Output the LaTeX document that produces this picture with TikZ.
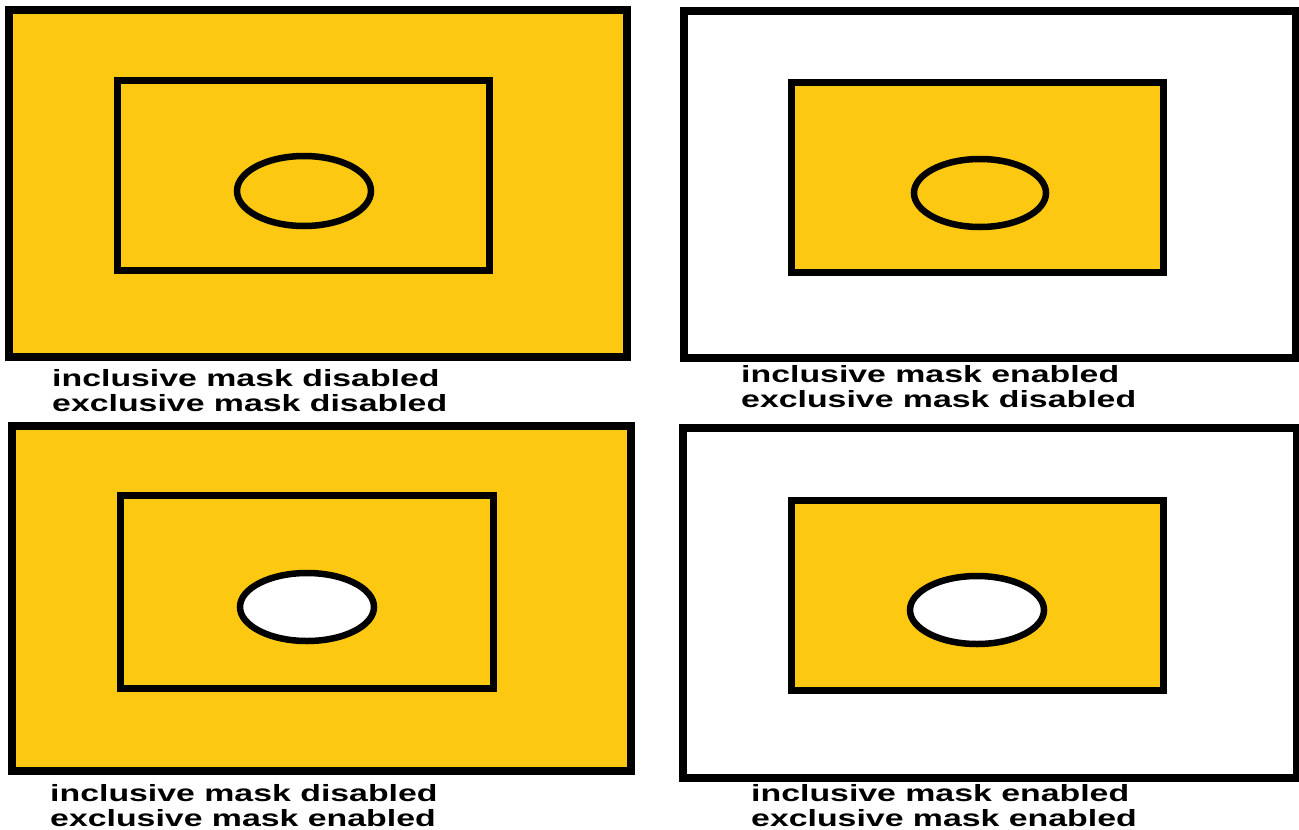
\documentclass[tikz,border=0pt]{standalone}
\usepackage{fontspec}
\newfontfamily\labfont{Liberation Sans}[FakeStretch=1.44]
\definecolor{maskyellow}{RGB}{252,200,17}
\tikzset{
  outerbox/.style={draw=black,line width=7.5pt},
  innerbox/.style={draw=black,line width=7pt,fill=maskyellow},
  hole/.style={draw=black,line width=6.5pt},
  lab/.style={anchor=north west,inner sep=0pt,align=left,font=\labfont\bfseries\fontsize{23.5}{25}\selectfont}
}
\begin{document}
\begin{tikzpicture}[x=1pt,y=-1pt]
\useasboundingbox (0,0) rectangle (1299,830);
\fill[white] (0,0) rectangle (1299,830);
% panel 1
\draw[outerbox,fill=maskyellow] (9,10) rectangle (627,357);
\draw[innerbox] (117,80) rectangle (489,270);
\draw[hole,fill=maskyellow] (304,191) ellipse [x radius=67,y radius=35];
\node[lab] (l1) at (52,369) {inclusive mask disabled\\exclusive mask disabled};
% panel 2
\draw[outerbox,fill=white] (684,11) rectangle (1296,358);
\draw[innerbox] (791,82) rectangle (1163,272);
\draw[hole,fill=maskyellow] (980,193) ellipse [x radius=66,y radius=34];
\node[lab] (l2) at (741,365) {inclusive mask enabled\\exclusive mask disabled};
% panel 3
\draw[outerbox,fill=maskyellow] (12,426) rectangle (631,771);
\draw[innerbox] (120,495) rectangle (493,688);
\draw[hole,fill=white] (307,607) ellipse [x radius=67,y radius=34];
\node[lab] (l3) at (50,784) {inclusive mask disabled\\exclusive mask enabled};
% panel 4
\draw[outerbox,fill=white] (683,428) rectangle (1297,778);
\draw[innerbox] (791,500) rectangle (1163,690);
\draw[hole,fill=white] (977,610) ellipse [x radius=67,y radius=34];
\node[lab] (l4) at (751,784) {inclusive mask enabled\\exclusive mask enabled};
\end{tikzpicture}
\end{document}
